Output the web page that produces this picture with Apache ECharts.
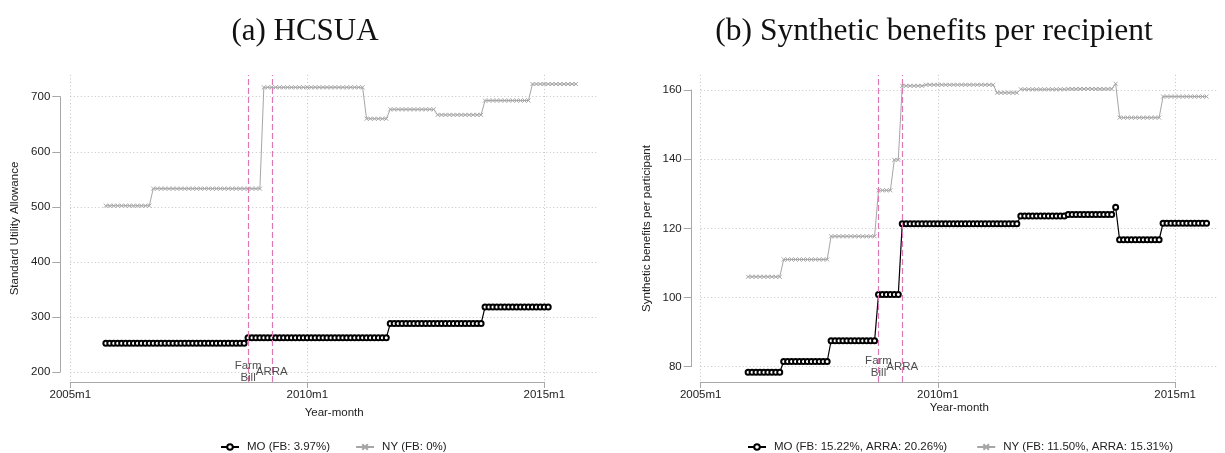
<!DOCTYPE html>
<html>
<head>
<meta charset="utf-8">
<script src="https://cdn.jsdelivr.net/npm/echarts@6/dist/echarts.min.js"></script>
<style>
  html, body { margin: 0; padding: 0; background: #fff; }
  #chart { width: 1225px; height: 453px; }
</style>
</head>
<body>
<div id="chart"></div>
<script>
// month index: 0 = 2005m1
const tickMonths = [0, 60, 120];
const tickLabels = ["2005m1", "2010m1", "2015m1"];
const eventMonths = [45, 51];
const eventLabels = ["Farm\nBill", "ARRA"];

// (a) HCSUA, monthly from 2005m10 (month 9)
const hcsuaStart = 9;
const hcsuaMO = [
  252, 252, 252,
  252, 252, 252, 252, 252, 252, 252, 252, 252, 252, 252, 252,
  252, 252, 252, 252, 252, 252, 252, 252, 252, 252, 252, 252,
  252, 252, 252, 252, 252, 252, 252, 252, 252, 262, 262, 262,
  262, 262, 262, 262, 262, 262, 262, 262, 262, 262, 262, 262,
  262, 262, 262, 262, 262, 262, 262, 262, 262, 262, 262, 262,
  262, 262, 262, 262, 262, 262, 262, 262, 262, 288, 288, 288,
  288, 288, 288, 288, 288, 288, 288, 288, 288, 288, 288, 288,
  288, 288, 288, 288, 288, 288, 288, 288, 288, 318, 318, 318,
  318, 318, 318, 318, 318, 318, 318, 318, 318, 318, 318, 318,
  318, 318
];
const hcsuaNY = [
  502, 502, 502,
  502, 502, 502, 502, 502, 502, 502, 502, 502, 533, 533, 533,
  533, 533, 533, 533, 533, 533, 533, 533, 533, 533, 533, 533,
  533, 533, 533, 533, 533, 533, 533, 533, 533, 533, 533, 533,
  533, 717, 717, 717, 717, 717, 717, 717, 717, 717, 717, 717,
  717, 717, 717, 717, 717, 717, 717, 717, 717, 717, 717, 717,
  717, 717, 717, 660, 660, 660, 660, 660, 660, 677, 677, 677,
  677, 677, 677, 677, 677, 677, 677, 677, 677, 667, 667, 667,
  667, 667, 667, 667, 667, 667, 667, 667, 667, 693, 693, 693,
  693, 693, 693, 693, 693, 693, 693, 693, 693, 723, 723, 723,
  723, 723, 723, 723, 723, 723, 723, 723, 723
];

// (b) synthetic benefits, monthly from 2006m1 (month 12) to 2015m9
const sbStart = 12;
const sbMO = [
  78.4, 78.4, 78.4, 78.4, 78.4, 78.4, 78.4, 78.4, 78.4, 81.5, 81.5, 81.5,
  81.5, 81.5, 81.5, 81.5, 81.5, 81.5, 81.5, 81.5, 81.5, 87.5, 87.5, 87.5,
  87.5, 87.5, 87.5, 87.5, 87.5, 87.5, 87.5, 87.5, 87.5, 100.9, 100.9, 100.9,
  100.9, 100.9, 100.9, 121.3, 121.3, 121.3, 121.3, 121.3, 121.3, 121.3, 121.3, 121.3,
  121.3, 121.3, 121.3, 121.3, 121.3, 121.3, 121.3, 121.3, 121.3, 121.3, 121.3, 121.3,
  121.3, 121.3, 121.3, 121.3, 121.3, 121.3, 121.3, 121.3, 121.3, 123.6, 123.6, 123.6,
  123.6, 123.6, 123.6, 123.6, 123.6, 123.6, 123.6, 123.6, 123.6, 124.0, 124.0, 124.0,
  124.0, 124.0, 124.0, 124.0, 124.0, 124.0, 124.0, 124.0, 124.0, 126.1, 116.7, 116.7,
  116.7, 116.7, 116.7, 116.7, 116.7, 116.7, 116.7, 116.7, 116.7, 121.5, 121.5, 121.5,
  121.5, 121.5, 121.5, 121.5, 121.5, 121.5, 121.5, 121.5, 121.5
];
const sbNY = [
  106, 106, 106, 106, 106, 106, 106, 106, 106, 111, 111, 111,
  111, 111, 111, 111, 111, 111, 111, 111, 111, 117.7, 117.7, 117.7,
  117.7, 117.7, 117.7, 117.7, 117.7, 117.7, 117.7, 117.7, 117.7, 131, 131, 131,
  131, 139.8, 139.8, 161.2, 161.2, 161.2, 161.2, 161.2, 161.2, 161.5, 161.5, 161.5,
  161.5, 161.5, 161.5, 161.5, 161.5, 161.5, 161.5, 161.5, 161.5, 161.5, 161.5, 161.5,
  161.5, 161.5, 161.5, 159.2, 159.2, 159.2, 159.2, 159.2, 159.2, 160.2, 160.2, 160.2,
  160.2, 160.2, 160.2, 160.2, 160.2, 160.2, 160.2, 160.2, 160.2, 160.3, 160.3, 160.3,
  160.3, 160.3, 160.3, 160.3, 160.3, 160.3, 160.3, 160.3, 160.3, 161.8, 152, 152,
  152, 152, 152, 152, 152, 152, 152, 152, 152, 158.1, 158.1, 158.1,
  158.1, 158.1, 158.1, 158.1, 158.1, 158.1, 158.1, 158.1, 158.1
];

const FONT = "Liberation Sans";
const TEXT = "#222";
const AXIS = "#a8a8a8";
const GRIDLINE = "#c4c4c4";
const DOTS = [1, 2.5];
const PINK = "#de78b2";
const xMark = "path://M0,0L10,10M10,0L0,10";

function toPairs(start, values) {
  return values.map((v, i) => [start + i, v]);
}

function plotYAxis(grid, min, max, interval, offset) {
  return {
    gridIndex: grid, type: "value", min: min, max: max, interval: interval, offset: offset,
    axisLine: { show: true, onZero: false, lineStyle: { color: AXIS, width: 1 } },
    axisTick: { show: true, length: 8, lineStyle: { color: AXIS } },
    axisLabel: { margin: 10, color: TEXT, fontFamily: FONT, fontSize: 11.5 },
    splitLine: { show: true, lineStyle: { color: GRIDLINE, type: DOTS } }
  };
}
function nameYAxis(grid, name, offset) {
  return {
    gridIndex: grid, type: "value", min: 0, max: 1, offset: offset,
    name: name, nameLocation: "middle", nameGap: 39,
    nameTextStyle: { color: TEXT, fontFamily: FONT, fontSize: 11.5 },
    axisLine: { show: false, onZero: false }, axisTick: { show: false },
    axisLabel: { show: false }, splitLine: { show: false }
  };
}
function dataXAxis(grid, max) {
  return {
    gridIndex: grid, type: "value", min: 0, max: max, offset: 10,
    name: "Year-month", nameLocation: "middle", nameGap: 25,
    nameTextStyle: { color: TEXT, fontFamily: FONT, fontSize: 11.5 },
    axisLine: { show: false, onZero: false }, axisTick: { show: false },
    axisLabel: { show: false }, splitLine: { show: false }
  };
}
function tickXAxis(grid) {
  return {
    gridIndex: grid, type: "value", min: tickMonths[0], max: tickMonths[2], interval: 60,
    axisLine: { show: true, onZero: false, lineStyle: { color: AXIS, width: 1 } },
    axisTick: { show: true, length: 6, lineStyle: { color: AXIS } },
    axisLabel: {
      margin: 7, color: TEXT, fontFamily: FONT, fontSize: 11.5,
      formatter: v => tickLabels[tickMonths.indexOf(v)]
    },
    splitLine: { show: true, lineStyle: { color: GRIDLINE, type: DOTS } }
  };
}

function moSeries(name, xi, start, values) {
  return {
    name: name, type: "line", xAxisIndex: xi, yAxisIndex: xi,
    data: toPairs(start, values), clip: false, z: 4,
    symbol: "emptyCircle", symbolSize: 5,
    lineStyle: { color: "#000", width: 1.2 },
    itemStyle: { color: "#000", borderColor: "#000", borderWidth: 1 },
    emphasis: { disabled: true }
  };
}
function nySeries(name, xi, start, values) {
  return {
    name: name, type: "line", xAxisIndex: xi, yAxisIndex: xi,
    data: toPairs(start, values), clip: false, z: 3,
    symbol: xMark, symbolSize: 4,
    lineStyle: { color: "#a6a6a6", width: 1 },
    itemStyle: { color: "#a6a6a6", borderColor: "#a6a6a6", borderWidth: 1 },
    emphasis: { disabled: true }
  };
}
function eventLines(xi) {
  return {
    type: "line", xAxisIndex: xi, yAxisIndex: xi, data: [], silent: true,
    markLine: {
      silent: true, symbol: ["none", "none"], label: { show: false },
      lineStyle: { color: PINK, type: [6, 3], width: 1.2 },
      data: eventMonths.map(m => ({ xAxis: m }))
    }
  };
}
function eventText(xi, yVal) {
  return {
    type: "scatter", xAxisIndex: xi, yAxisIndex: xi, silent: true, z: 6,
    data: eventMonths.map(m => [m, yVal]),
    symbol: "circle", symbolSize: 1, itemStyle: { color: "rgba(0,0,0,0)" },
    label: {
      show: true, position: "inside", color: TEXT, fontFamily: FONT,
      fontSize: 11.5, lineHeight: 12,
      formatter: p => eventLabels[p.dataIndex]
    }
  };
}

const legendBase = {
  orient: "horizontal", itemWidth: 18, itemHeight: 7, top: 436,
  textStyle: { color: TEXT, fontFamily: FONT, fontSize: 11.5, padding: [0, 0, 0, 3] }
};

let option = {
  animation: false,
  backgroundColor: "#fff",
  title: [
    { text: "(a) HCSUA", left: 300, top: 11, textAlign: "center",
      textStyle: { fontFamily: "Liberation Serif", fontSize: 31, fontWeight: "normal", color: "#111" } },
    { text: "(b) Synthetic benefits per recipient", left: 929, top: 11, textAlign: "center",
      textStyle: { fontFamily: "Liberation Serif", fontSize: 31.5, fontWeight: "normal", color: "#111" } }
  ],
  legend: [
    Object.assign({}, legendBase, { left: 215, itemGap: 25, data: ["MO (FB: 3.97%)", "NY (FB: 0%)"] }),
    Object.assign({}, legendBase, { left: 742, itemGap: 29,
      data: ["MO (FB: 15.22%, ARRA: 20.26%)", "NY (FB: 11.50%, ARRA: 15.31%)"] })
  ],
  grid: [
    { left: 70.3, top: 96.7, width: 527.7, height: 275.3 },
    { left: 70.3, top: 75, width: 474, height: 307 },
    { left: 700.7, top: 90, width: 517.3, height: 276.7 },
    { left: 700.7, top: 75, width: 474.4, height: 307 }
  ],
  xAxis: [
    dataXAxis(0, 133.6),
    tickXAxis(1),
    dataXAxis(2, 130.9),
    tickXAxis(3)
  ],
  yAxis: [
    plotYAxis(0, 200, 700, 100, 10),
    nameYAxis(1, "Standard Utility Allowance", 10),
    plotYAxis(2, 80, 160, 20, 9),
    nameYAxis(3, "Synthetic benefits per participant", 9)
  ],
  series: [
    eventLines(1),
    nySeries("NY (FB: 0%)", 0, hcsuaStart, hcsuaNY),
    moSeries("MO (FB: 3.97%)", 0, hcsuaStart, hcsuaMO),
    eventText(0, 200),
    eventLines(3),
    nySeries("NY (FB: 11.50%, ARRA: 15.31%)", 2, sbStart, sbNY),
    moSeries("MO (FB: 15.22%, ARRA: 20.26%)", 2, sbStart, sbMO),
    eventText(2, 80)
  ]
};

let chart = echarts.init(document.getElementById("chart"), null, { renderer: "canvas" });
chart.setOption(option);
</script>
</body>
</html>
